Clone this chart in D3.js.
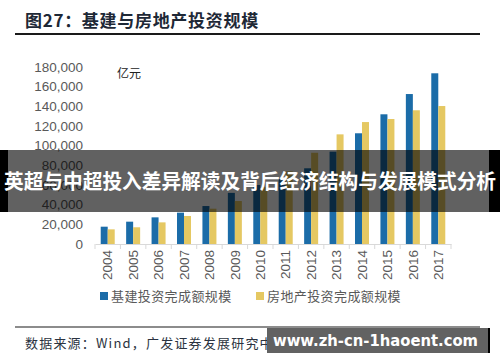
<!DOCTYPE html>
<html>
<head>
<meta charset="utf-8">
<script src="https://cdn.jsdelivr.net/npm/d3@7"></script>
<style>
  body { margin: 0; background: #fff; }
  svg { display: block; }
</style>
</head>
<body>
<script>
// 图27 基建与房地产投资规模（亿元）
const years = ["2004","2005","2006","2007","2008","2009","2010","2011","2012","2013","2014","2015","2016","2017"];
const infra = [17600, 22700, 27100, 31900, 38600, 52000, 60000, 66000, 77000, 93900, 112600, 131900, 152500, 173600];
const realEstate = [14900, 17000, 22000, 28500, 35900, 43700, 58000, 74000, 92800, 111500, 124000, 127100, 136000, 140300];
const seriesNames = ["基建投资完成额规模", "房地产投资完成额规模"];
const yTicks = [0, 20000, 40000, 60000, 80000, 100000, 120000, 140000, 160000, 180000];

const width = 500, height = 362;
const blue = "#1b6ca8", yellow = "#e5c862";
const labelFont = "'Liberation Sans', Arial, sans-serif";
const cjkFont = "'Noto Sans CJK SC', sans-serif";

const svg = d3.select("body").append("svg")
  .attr("width", width)
  .attr("height", height);

// title + rule
svg.append("text")
  .attr("x", 25).attr("y", 27)
  .attr("font-family", cjkFont)
  .attr("font-weight", "bold")
  .attr("font-size", 17)
  .attr("letter-spacing", 0.7)
  .attr("fill", "#1e2836")
  .text("图27：基建与房地产投资规模");

svg.append("line")
  .attr("x1", 15).attr("x2", 480)
  .attr("y1", 34).attr("y2", 34)
  .attr("stroke", "#1a1a1a").attr("stroke-width", 2);

const x = d3.scaleBand().domain(years).range([95, 451]);
const y = d3.scaleLinear().domain([0, 180000]).range([244, 67]);
const barW = 7;

// y axis labels (no line)
svg.append("g")
  .selectAll("text")
  .data(yTicks)
  .join("text")
  .attr("x", 83)
  .attr("y", d => y(d))
  .attr("dy", "0.35em")
  .attr("text-anchor", "end")
  .attr("font-family", labelFont)
  .attr("font-size", 13.5)
  .attr("fill", "#595959")
  .text(d3.format(","));

svg.append("text")
  .attr("x", 117).attr("y", 78)
  .attr("font-family", cjkFont)
  .attr("font-size", 12)
  .attr("fill", "#222")
  .text("亿元");

// bars
const groups = svg.append("g")
  .selectAll("g")
  .data(years.map((yr, i) => ({ yr, a: infra[i], b: realEstate[i] })))
  .join("g")
  .attr("transform", d => `translate(${x(d.yr) + x.bandwidth() / 2},0)`);

groups.append("rect")
  .attr("x", -barW)
  .attr("width", barW)
  .attr("y", d => y(d.a))
  .attr("height", d => y(0) - y(d.a))
  .attr("fill", blue);

groups.append("rect")
  .attr("x", 0)
  .attr("width", barW)
  .attr("y", d => y(d.b))
  .attr("height", d => y(0) - y(d.b))
  .attr("fill", yellow);

// x axis
const xAxis = svg.append("g")
  .attr("transform", `translate(0,${y(0)})`)
  .call(d3.axisBottom(x).tickSize(0).tickSizeOuter(0).tickPadding(6));
xAxis.select(".domain").attr("stroke", "#d9d9d9");
xAxis.selectAll(".tick text")
  .attr("transform", "rotate(-90)")
  .attr("text-anchor", "end")
  .attr("x", -6)
  .attr("y", 0)
  .attr("dy", "0.35em")
  .attr("font-family", labelFont)
  .attr("font-size", 13.5)
  .attr("fill", "#595959");

// separators between categories
svg.append("g")
  .selectAll("line")
  .data(years.concat(["end"]))
  .join("line")
  .attr("x1", (d, i) => i < years.length ? x(d) : x.range()[1])
  .attr("x2", (d, i) => i < years.length ? x(d) : x.range()[1])
  .attr("y1", y(0))
  .attr("y2", y(0) + 5)
  .attr("stroke", "#d9d9d9");

// legend
const legend = svg.append("g")
  .selectAll("g")
  .data(seriesNames.map((n, i) => ({ n, c: i ? yellow : blue, x: i ? 256 : 100 })))
  .join("g")
  .attr("transform", d => `translate(${d.x},292)`);
legend.append("rect")
  .attr("width", 8).attr("height", 8)
  .attr("fill", d => d.c);
legend.append("text")
  .attr("x", 11).attr("y", 4)
  .attr("dy", "0.38em")
  .attr("font-family", cjkFont)
  .attr("font-size", 13)
  .attr("letter-spacing", 0.4)
  .attr("fill", "#595959")
  .text(d => d.n);

// bottom rule + source
svg.append("line")
  .attr("x1", 15).attr("x2", 480)
  .attr("y1", 327).attr("y2", 327)
  .attr("stroke", "#1a1a1a").attr("stroke-width", 1.2);

svg.append("text")
  .attr("x", 25).attr("y", 348)
  .attr("font-family", cjkFont)
  .attr("font-size", 13)
  .attr("letter-spacing", 1.2)
  .attr("fill", "#2b3340")
  .text("数据来源：Wind，广发证券发展研究中心");

// overlay banner
const band = svg.append("g");
band.append("rect")
  .attr("x", 0).attr("y", 150).attr("width", width).attr("height", 62)
  .attr("fill", "#000").attr("fill-opacity", 0.62);
band.append("rect").attr("x", 0).attr("y", 150).attr("width", 8).attr("height", 62).attr("fill", "#000");
band.append("rect").attr("x", 489).attr("y", 150).attr("width", 11).attr("height", 62).attr("fill", "#000");
band.append("text")
  .attr("x", 250).attr("y", 182)
  .attr("dy", "0.36em")
  .attr("text-anchor", "middle")
  .attr("font-family", cjkFont)
  .attr("font-weight", "bold")
  .attr("font-size", 20.4)
  .attr("fill", "#fff")
  .attr("textLength", 492)
  .attr("lengthAdjust", "spacingAndGlyphs")
  .text("英超与中超投入差异解读及背后经济结构与发展模式分析");

// watermark box
const wm = svg.append("g");
wm.append("rect")
  .attr("x", 267).attr("y", 328).attr("width", 221).attr("height", 25)
  .attr("fill", "#626262");
wm.append("rect")
  .attr("x", 488).attr("y", 328).attr("width", 2).attr("height", 25)
  .attr("fill", "#000");
wm.append("text")
  .attr("x", 273).attr("y", 340.5)
  .attr("dy", "0.36em")
  .attr("font-family", "'DejaVu Sans', sans-serif")
  .attr("font-weight", "bold")
  .attr("font-size", 15)
  .attr("fill", "#fff")
  .attr("textLength", 205)
  .attr("lengthAdjust", "spacingAndGlyphs")
  .text("www.zh-cn-1haoent.com");
</script>
</body>
</html>
